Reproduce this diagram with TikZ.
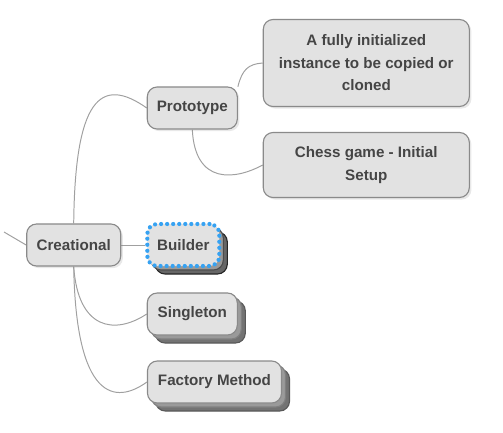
\documentclass[tikz,border=0pt]{standalone}
\usepackage{fontspec}
\setmainfont{Liberation Sans}
\usepackage{tikz}
\usetikzlibrary{shadows, backgrounds, calc}
\definecolor{boxfill}{HTML}{E2E2E2}
\definecolor{boxline}{HTML}{8A8A8A}
\definecolor{textcolor}{HTML}{454545}
\definecolor{linkcolor}{HTML}{A0A0A0}
\definecolor{stackcolor}{HTML}{9A9A9A}
\definecolor{selcolor}{HTML}{36A2F2}

\begin{document}
\begin{tikzpicture}[
    x=0.025cm, y=-0.025cm,
    every node/.style={font=\fontsize{10.8}{16}\selectfont\bfseries, align=center,
                       text=textcolor},
    topic/.style={draw=boxline, fill=boxfill, rounded corners=7pt, line width=0.8pt,
                  minimum height=1.05cm,
                  drop shadow={opacity=0.18, shadow xshift=1.5pt, shadow yshift=-1.5pt}},
    stacked/.style={topic,
        general shadow={shadow xshift=0.2cm, shadow yshift=-0.2cm, solid,
                        line width=0.8pt, fill=stackcolor!75!black, draw=black!65},
        general shadow={shadow xshift=0.1cm, shadow yshift=-0.1cm, solid,
                        line width=0.8pt, fill=stackcolor, draw=black!50}},
    selected/.style={topic,
        general shadow={shadow xshift=0.2cm, shadow yshift=-0.2cm, solid,
                        line width=0.8pt, fill=black!60, draw=black!85},
        general shadow={shadow xshift=0.1cm, shadow yshift=-0.1cm, solid,
                        line width=0.8pt, fill=black!40, draw=black!70},
        draw=selcolor, line width=3pt, line cap=round,
        dash pattern=on 0pt off 4.3pt},
    link/.style={draw=linkcolor, line width=0.7pt}
]
    \useasboundingbox (0,0) rectangle (503,432);

    % Root topic
    \coordinate (parent) at (4,232);
    \node[topic, minimum width=2.35cm] (creat) at (73.7,245) {Creational};

    % Prototype branch
    \node[topic, minimum width=2.25cm] (proto) at (192.3,108) {Prototype};
    \node[topic, minimum width=5.15cm, minimum height=2.175cm] (fully) at (366.3,63)
        {A fully initialized\\instance to be copied or\\cloned};
    \node[topic, minimum width=5.15cm, minimum height=1.625cm] (chess) at (366.3,165)
        {Chess game - Initial\\Setup};

    % Collapsed topics
    \node[selected, minimum width=1.8cm, minimum height=1.05cm] (build) at (183.3,245) {Builder};
    \node[stacked, minimum width=2.25cm] (single) at (192.3,314) {Singleton};
    \node[stacked, minimum width=3.35cm] (fact) at (214.5,382) {Factory Method};

    % Links
    \begin{scope}[on background layer]
        \draw[link] (parent) -- (creat.west);
        \draw[link] (creat.north) .. controls (75,100) and (100,75) .. (proto.west);
        \draw[link] (proto.25) .. controls (242,70) and (248,64) .. (fully.west);
        \draw[link] (proto.south) .. controls (195,185) and (235,180) .. (chess.west);
        \draw[link] (creat.east) -- (build.west);
        \draw[link] (creat.south) .. controls (78,330) and (115,335) .. (single.west);
        \draw[link] (creat.south) .. controls (76,400) and (115,405) .. (fact.west);
    \end{scope}
\end{tikzpicture}
\end{document}
